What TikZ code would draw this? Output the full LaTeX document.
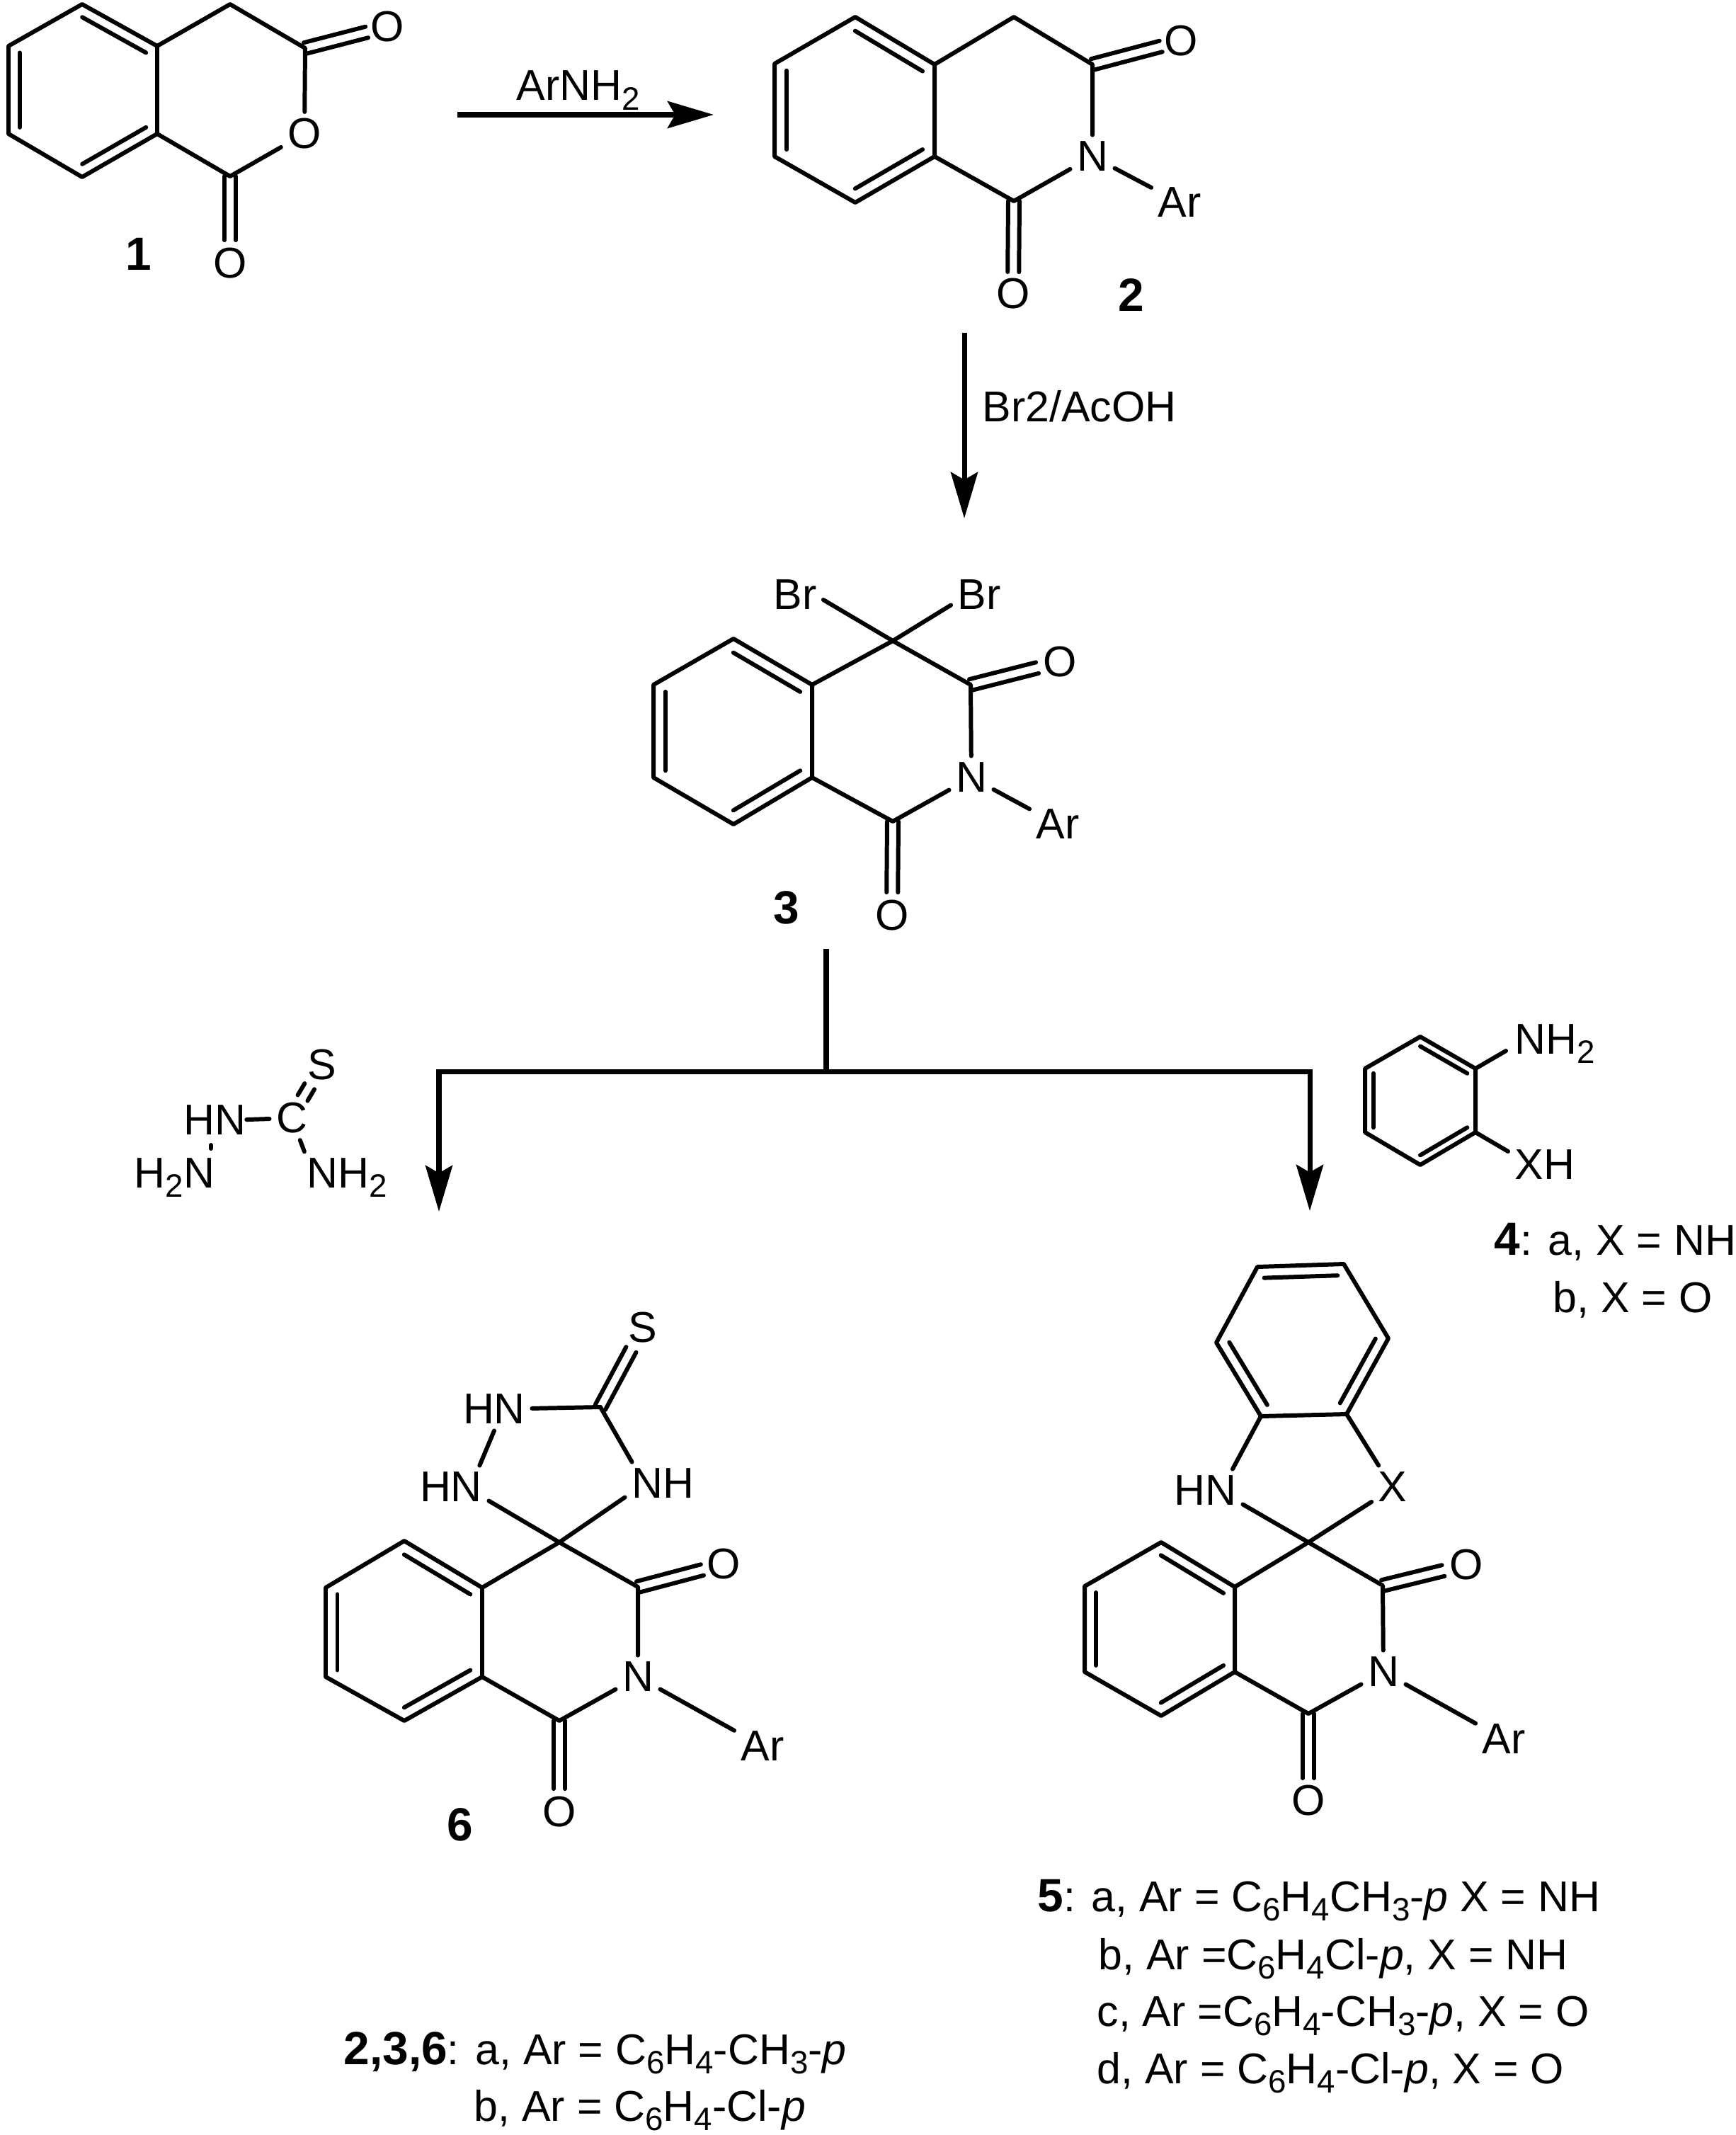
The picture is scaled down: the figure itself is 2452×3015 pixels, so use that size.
\documentclass[tikz,border=0pt]{standalone}
\usepackage{fontspec}
\setmainfont{Liberation Sans}
\usetikzlibrary{arrows.meta,calc}
\tikzset{
  bond/.style={line width=1.7pt,line cap=round,line join=round},
  rxn/.style={line width=2pt,-{Stealth[length=18.5pt,width=10.8pt,inset=3pt]}},
  atom/.style={inner sep=2.5pt},
  lab/.style={inner sep=0pt,anchor=base west}
}
\newcommand{\ssub}[1]{\raisebox{-0.22em}{\fontsize{13}{13}\selectfont #1}}
\newcommand{\cnum}[1]{{\fontsize{18.7}{20}\selectfont\bfseries #1}}
\newcommand{\innerbond}[3]{\draw[bond] ($(#1)!0.15!(#3)$) -- ($(#2)!0.15!(#3)$);}
\newcommand{\dblbond}[3]{
  \draw[bond] ($(#1)!0.08cm!90:(#2)$) -- ($(#1)!#3!(#2)!0.08cm!90:(#2)$);
  \draw[bond] ($(#1)!0.08cm!-90:(#2)$) -- ($(#1)!#3!(#2)!0.08cm!-90:(#2)$);
}
\begin{document}
\begin{tikzpicture}[x=0.01cm,y=-0.01cm,font=\fontsize{17.3}{20}\selectfont]
  \useasboundingbox (0,0) rectangle (2452,3015);

  % 1
  \coordinate (a0) at (117,128);
  \coordinate (a1) at (116,6);
  \coordinate (a2) at (222,65);
  \coordinate (a3) at (222,189);
  \coordinate (a4) at (116,250);
  \coordinate (a5) at (12,189);
  \coordinate (a6) at (12,65);
  \coordinate (a7) at (325,6);
  \coordinate (a8) at (431,68);
  \coordinate (a9) at (325,249);
  \node[atom] (o1r) at (430,189) {O};
  \node[atom] (o1t) at (547,38) {O};
  \node[atom] (o1b) at (325,372) {O};
  \node[atom] (l1) at (196,359) {\cnum{1}};
  \draw[bond] (a1) -- (a2) -- (a3) -- (a4) -- (a5) -- (a6) -- cycle;
  \draw[bond] (a2) -- (a7) -- (a8) -- (o1r);
  \draw[bond] (o1r) -- (a9) -- (a3);
  \innerbond{a1}{a2}{a0}
  \innerbond{a3}{a4}{a0}
  \innerbond{a5}{a6}{a0}
  \dblbond{a8}{o1t}{0.9cm}
  \dblbond{a9}{o1b}{0.9cm}

  \coordinate (r1s) at (646,162);
  \coordinate (r1e) at (1008,162);
  \draw[rxn] (r1s) -- (r1e);
  \node[lab] (r1t) at (729,142) {ArNH\ssub{2}};

  % 2
  \coordinate (b0) at (1207,155);
  \coordinate (b1) at (1208,24);
  \coordinate (b2) at (1320,91);
  \coordinate (b3) at (1320,221);
  \coordinate (b4) at (1208,286);
  \coordinate (b5) at (1094,221);
  \coordinate (b6) at (1094,90);
  \coordinate (b7) at (1432,24);
  \coordinate (b8) at (1543,91);
  \coordinate (b9) at (1432,284);
  \node[atom] (n2) at (1543,221) {N};
  \node[atom] (ar2) at (1666,286) {Ar};
  \node[atom] (o2t) at (1668,58) {O};
  \node[atom] (o2b) at (1431,415) {O};
  \node[atom] (l2) at (1598,417) {\cnum{2}};
  \draw[bond] (b1) -- (b2) -- (b3) -- (b4) -- (b5) -- (b6) -- cycle;
  \draw[bond] (b2) -- (b7) -- (b8) -- (n2);
  \draw[bond] (n2) -- (b9) -- (b3);
  \draw[bond] (n2) -- (ar2);
  \innerbond{b1}{b2}{b0}
  \innerbond{b3}{b4}{b0}
  \innerbond{b5}{b6}{b0}
  \dblbond{b8}{o2t}{1cm}
  \dblbond{b9}{o2b}{1cm}

  \coordinate (r2s) at (1362,470);
  \coordinate (r2e) at (1362,732);
  \draw[rxn] (r2s) -- (r2e);
  \node[lab] (r2t) at (1387,595) {Br2/AcOH};

  % 3
  \coordinate (c0) at (1035,1033);
  \coordinate (c1) at (1036,902);
  \coordinate (c2) at (1147,967);
  \coordinate (c3) at (1147,1098);
  \coordinate (c4) at (1036,1164);
  \coordinate (c5) at (923,1098);
  \coordinate (c6) at (923,967);
  \coordinate (c7) at (1261,905);
  \coordinate (c8) at (1371,967);
  \coordinate (c9) at (1261,1160);
  \node[atom] (n3) at (1372,1098) {N};
  \node[atom] (ar3) at (1494,1164) {Ar};
  \node[atom] (brl) at (1123,840) {Br};
  \node[atom] (brr) at (1383,840) {Br};
  \node[atom] (o3t) at (1497,935) {O};
  \node[atom] (o3b) at (1260,1293) {O};
  \node[atom] (l3) at (1111,1282) {\cnum{3}};
  \draw[bond] (c1) -- (c2) -- (c3) -- (c4) -- (c5) -- (c6) -- cycle;
  \draw[bond] (c2) -- (c7) -- (c8) -- (n3);
  \draw[bond] (n3) -- (c9) -- (c3);
  \draw[bond] (n3) -- (ar3);
  \draw[bond] (c7) -- (brl.-10);
  \draw[bond] (c7) -- (brr.200);
  \innerbond{c1}{c2}{c0}
  \innerbond{c3}{c4}{c0}
  \innerbond{c5}{c6}{c0}
  \dblbond{c8}{o3t}{0.97cm}
  \dblbond{c9}{o3b}{1cm}

  % branch
  \coordinate (fs) at (1167,1340);
  \coordinate (fm) at (1167,1513);
  \coordinate (fl) at (620,1513);
  \coordinate (fr) at (1850,1513);
  \coordinate (fle) at (620,1711);
  \coordinate (fre) at (1850,1710);
  \draw[line width=2pt] (fs) -- (fm);
  \draw[rxn] (fm) -- (fl) -- (fle);
  \draw[rxn] (fm) -- (fr) -- (fre);

  % thiosemicarbazide
  \node[atom] (tc) at (412,1579) {C};
  \node[atom] (ts) at (455,1504) {S};
  \node[lab] (thn) at (259,1602) {HN};
  \node[lab] (th2n) at (189,1677) {H\ssub{2}N};
  \node[lab] (tnh2) at (433,1677) {NH\ssub{2}};
  \coordinate (tcs) at (427.5,1550.5);
  \coordinate (tna) at (298,1617);
  \coordinate (tnb) at (298,1622);
  \draw[bond] (thn.east) -- (tc);
  \draw[bond,shorten >=2.5pt] (tc) -- (tnh2.north west);
  \draw[bond] (tna) -- (tnb);
  \dblbond{tcs}{ts}{0.19cm}

  % 4
  \coordinate (d0) at (2006,1554);
  \coordinate (d1) at (2006,1464);
  \coordinate (d2) at (2084,1509);
  \coordinate (d3) at (2084,1599);
  \coordinate (d4) at (2006,1645);
  \coordinate (d5) at (1928,1599);
  \coordinate (d6) at (1928,1509);
  \coordinate (dna) at (2127,1484);
  \coordinate (dxa) at (2130,1626);
  \node[lab] (dnh2) at (2139,1488) {NH\ssub{2}};
  \node[lab] (dxh) at (2139,1665) {XH};
  \draw[bond] (d1) -- (d2) -- (d3) -- (d4) -- (d5) -- (d6) -- cycle;
  \draw[bond] (d2) -- (dna);
  \draw[bond] (d3) -- (dxa);
  \innerbond{d1}{d2}{d0}
  \innerbond{d3}{d4}{d0}
  \innerbond{d5}{d6}{d0}
  \node[lab] (t4a) at (2110,1772) {\cnum{4}: a, X = NH};
  \node[lab] (t4b) at (2193,1853) {b, X = O};

  % 5
  \coordinate (e0) at (1638,2300);
  \coordinate (e1) at (1640,2178);
  \coordinate (e2) at (1744,2241);
  \coordinate (e3) at (1744,2361);
  \coordinate (e4) at (1640,2423);
  \coordinate (e5) at (1532,2361);
  \coordinate (e6) at (1532,2240);
  \coordinate (e7) at (1848,2178);
  \coordinate (e8) at (1953,2239);
  \coordinate (e9) at (1848,2420);
  \coordinate (g0) at (1840,1893);
  \coordinate (g1) at (1776,1789);
  \coordinate (g2) at (1898,1785);
  \coordinate (g3) at (1961,1890);
  \coordinate (g4) at (1902,1997);
  \coordinate (g5) at (1781,2000);
  \coordinate (g6) at (1718,1896);
  \node[atom] (n5) at (1954,2361) {N};
  \node[atom] (ar5) at (2124,2456) {Ar};
  \node[atom] (o5t) at (2071,2210) {O};
  \node[atom] (o5b) at (1848,2543) {O};
  \node[atom] (hn5) at (1702,2105) {HN};
  \node[atom] (x5) at (1967,2100) {X};
  \draw[bond] (e1) -- (e2) -- (e3) -- (e4) -- (e5) -- (e6) -- cycle;
  \draw[bond] (e2) -- (e7) -- (e8) -- (n5);
  \draw[bond] (n5) -- (e9) -- (e3);
  \draw[bond] (n5) -- (ar5);
  \draw[bond] (g1) -- (g2) -- (g3) -- (g4) -- (g5) -- (g6) -- cycle;
  \draw[bond] (g5) -- (hn5.38);
  \draw[bond] (g4) -- (x5.123);
  \draw[bond] (e7) -- (hn5.-20);
  \draw[bond] (e7) -- (x5.215);
  \innerbond{e1}{e2}{e0}
  \innerbond{e3}{e4}{e0}
  \innerbond{e5}{e6}{e0}
  \innerbond{g1}{g2}{g0}
  \innerbond{g3}{g4}{g0}
  \innerbond{g5}{g6}{g0}
  \dblbond{e8}{o5t}{0.88cm}
  \dblbond{e9}{o5b}{0.91cm}

  % 6
  \coordinate (h0) at (570,2305);
  \coordinate (h1) at (571,2176);
  \coordinate (h2) at (681,2242);
  \coordinate (h3) at (681,2368);
  \coordinate (h4) at (571,2430);
  \coordinate (h5) at (460,2368);
  \coordinate (h6) at (460,2242);
  \coordinate (h7) at (790,2178);
  \coordinate (h8) at (901,2241);
  \coordinate (h9) at (790,2430);
  \coordinate (hc) at (848,1987);
  \node[atom] (n6) at (901,2368) {N};
  \node[atom] (ar6) at (1077,2466) {Ar};
  \node[atom] (o6t) at (1022,2209) {O};
  \node[atom] (o6b) at (790,2559) {O};
  \node[atom] (s6) at (908,1875) {S};
  \node[atom] (hnu) at (698,1990) {HN};
  \node[atom] (hnl) at (637,2100) {HN};
  \node[atom] (nh6) at (936,2095) {NH};
  \node[atom] (l6) at (650,2577) {\cnum{6}};
  \draw[bond] (h1) -- (h2) -- (h3) -- (h4) -- (h5) -- (h6) -- cycle;
  \draw[bond] (h2) -- (h7) -- (h8) -- (n6);
  \draw[bond] (n6) -- (h9) -- (h3);
  \draw[bond] (n6) -- (ar6);
  \draw[bond] (h7) -- (hnl.-20);
  \draw[bond] (h7) -- (nh6.200);
  \draw[bond] (hnu.south) -- (hnl.37);
  \draw[bond] (hnu) -- (hc);
  \draw[bond] (hc) -- (nh6.145);
  \innerbond{h1}{h2}{h0}
  \innerbond{h3}{h4}{h0}
  \innerbond{h5}{h6}{h0}
  \dblbond{h8}{o6t}{0.94cm}
  \dblbond{h9}{o6b}{0.96cm}
  \dblbond{hc}{s6}{0.92cm}

  % captions
  \node[lab] (t5a) at (1465,2699) {\cnum{5}: a, Ar = C\ssub{6}H\ssub{4}CH\ssub{3}-\textit{p} X = NH};
  \node[lab] (t5b) at (1551,2781) {b, Ar =C\ssub{6}H\ssub{4}Cl-\textit{p}, X = NH};
  \node[lab] (t5c) at (1549,2861) {c, Ar =C\ssub{6}H\ssub{4}-CH\ssub{3}-\textit{p}, X = O};
  \node[lab] (t5d) at (1549,2942) {d, Ar = C\ssub{6}H\ssub{4}-Cl-\textit{p}, X = O};
  \node[lab] (t6a) at (485,2915) {\cnum{2,3,6}: a, Ar = C\ssub{6}H\ssub{4}-CH\ssub{3}-\textit{p}};
  \node[lab] (t6b) at (669,2995) {b, Ar = C\ssub{6}H\ssub{4}-Cl-\textit{p}};
\end{tikzpicture}
\end{document}
